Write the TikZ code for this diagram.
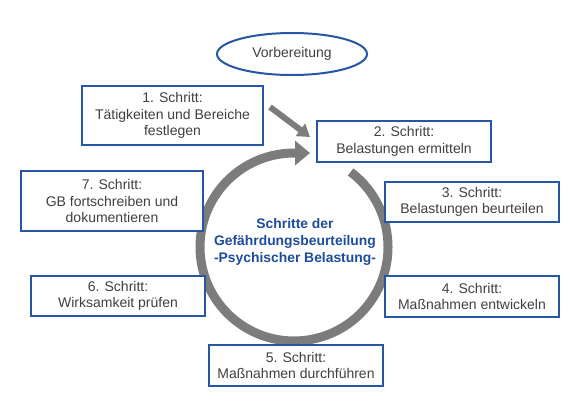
\documentclass[tikz,border=0pt]{standalone}
\usepackage{fontspec}
\setmainfont{Liberation Sans}
\usetikzlibrary{arrows.meta,shapes.geometric}

\definecolor{boxblue}{RGB}{38,86,165}
\definecolor{titleblue}{RGB}{28,76,158}
\definecolor{txtgray}{RGB}{64,64,64}
\definecolor{ringgray}{RGB}{124,124,124}

\begin{document}
\begin{tikzpicture}[x=0.75pt,y=0.75pt,yscale=-1,xscale=1,
    stepbox/.style={draw=boxblue,line width=1.5pt,fill=white,text=txtgray,align=center,
        inner sep=0pt,font=\fontsize{10.5}{12.2}\selectfont},
    ringarrow/.style={draw=ringgray,line width=6.75pt,
        -{Triangle[width=18pt,length=11.25pt,fill=ringgray]}},
    smallarrow/.style={draw=ringgray,line width=4.5pt,
        -{Triangle[width=11.25pt,length=9pt,fill=ringgray]}}]
    \useasboundingbox (0,0) rectangle (586,404);

    %Shape: Ellipse [Vorbereitung]
    \node [ellipse,draw=boxblue,line width=1.5pt,text=txtgray,minimum width=112.5pt,minimum height=31.5pt,
        inner sep=0pt,font=\fontsize{10.5}{12.2}\selectfont] (prep) at (292,54) {Vorbereitung};

    %Shape: Circle arrow
    \coordinate (ctr) at (294,247);
    \draw [ringarrow] (ctr) ++(-53:94) arc [start angle=-53,end angle=270,radius=94] -- ++(16,0);

    %Straight Lines [step 1 to step 2]
    \coordinate (a1) at (270,107);
    \coordinate (a2) at (310,137);
    \draw [smallarrow] (a1) -- (a2);

    % Text Node
    \node [text=titleblue,align=center,font=\bfseries\fontsize{10.4}{12.5}\selectfont] (title) at (295,242)
        {Schritte der\\Gefährdungsbeurteilung\\-Psychischer Belastung-};

    %Shape: Rectangle [steps]
    \node [stepbox,minimum width=135.75pt,minimum height=44.25pt] (s1) at (172.5,115.5) {1. Schritt:\\Tätigkeiten und Bereiche\\festlegen};
    \node [stepbox,minimum width=130.5pt,minimum height=30.75pt] (s2) at (404,141.5) {2. Schritt:\\Belastungen ermitteln};
    \node [stepbox,minimum width=130.5pt,minimum height=30pt] (s3) at (472,202) {3. Schritt:\\Belastungen beurteilen};
    \node [stepbox,minimum width=130.5pt,minimum height=30.75pt] (s4) at (472,296.5) {4. Schritt:\\Maßnahmen entwickeln};
    \node [stepbox,minimum width=130.5pt,minimum height=30.75pt] (s5) at (296,365.5) {5. Schritt:\\Maßnahmen durchführen};
    \node [stepbox,minimum width=130.5pt,minimum height=30pt] (s6) at (118,296) {6. Schritt:\\Wirksamkeit prüfen};
    \node [stepbox,minimum width=136.5pt,minimum height=45pt] (s7) at (112,201) {7. Schritt:\\GB fortschreiben und\\dokumentieren};
\end{tikzpicture}
\end{document}
